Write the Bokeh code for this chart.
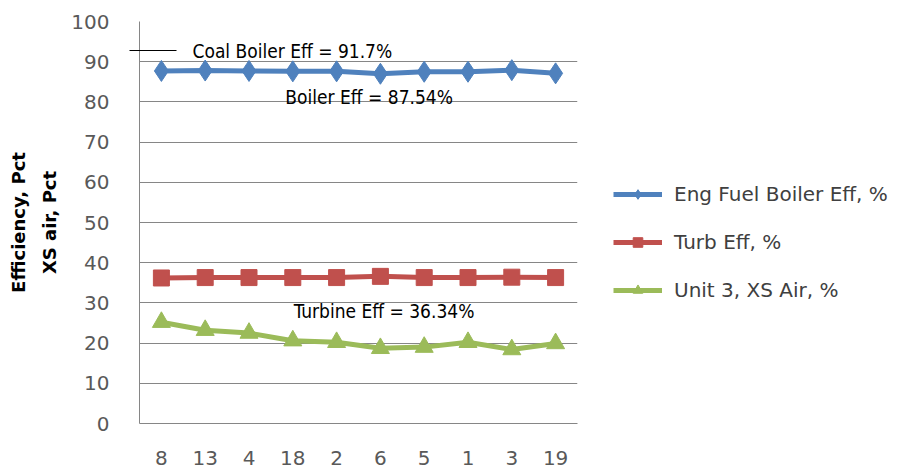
from bokeh.plotting import figure
from bokeh.models import (FactorRange, Range1d, Label, Legend, LegendItem,
                          LinearAxis, FixedTicker)
from bokeh.embed import file_html
from bokeh.resources import INLINE

units = ["8", "13", "4", "18", "2", "6", "5", "1", "3", "19"]
boiler_eff = [87.7, 87.8, 87.7, 87.6, 87.6, 87.0, 87.5, 87.5, 87.9, 87.1]
turb_eff = [36.2, 36.3, 36.3, 36.3, 36.3, 36.6, 36.3, 36.3, 36.4, 36.3]
xs_air = [25.2, 23.2, 22.5, 20.6, 20.2, 18.7, 19.0, 20.2, 18.4, 19.9]
series_names = ["Eng Fuel Boiler Eff, %", "Turb Eff, %", "Unit 3, XS Air, %"]
y_ticks = [0, 10, 20, 30, 40, 50, 60, 70, 80, 90, 100]
coal_boiler_eff = 91.7

TICK_FONT = "DejaVu Sans"
p = figure(x_range=FactorRange(*units), y_range=Range1d(0, 100),
           frame_width=438, frame_height=402,
           min_border_left=139, min_border_top=21, min_border_bottom=47,
           min_border_right=10,
           output_backend="svg", toolbar_location=None)
p.outline_line_color = None
p.background_fill_color = "white"
p.border_fill_color = "white"

# axes; the coal-boiler reference mark is drawn as a single minor tick
p.yaxis.ticker = FixedTicker(ticks=y_ticks, minor_ticks=[92.7])
p.ygrid.ticker = FixedTicker(ticks=y_ticks)
for ax in (p.xaxis[0], p.yaxis[0]):
    ax.axis_line_color = "#868686"
    ax.major_tick_line_color = None
    ax.minor_tick_line_color = None
    ax.major_label_text_font = TICK_FONT
    ax.major_label_text_font_size = "20px"
    ax.major_label_text_color = "#595959"
p.yaxis.minor_tick_line_color = "black"
p.yaxis.minor_tick_line_width = 1
p.yaxis.minor_tick_out = 10
p.yaxis.minor_tick_in = 37
p.xaxis.major_label_standoff = 21
p.yaxis.major_label_standoff = 20
p.yaxis.axis_label = "XS air, Pct"
p.yaxis.axis_label_text_font = TICK_FONT
p.yaxis.axis_label_text_font_style = "bold"
p.yaxis.axis_label_text_font_size = "18px"
p.yaxis.axis_label_text_color = "black"
p.yaxis.axis_label_standoff = 8

extra = LinearAxis(axis_label="Efficiency, Pct", ticker=FixedTicker(ticks=[]),
                   axis_line_color=None, major_tick_line_color=None,
                   minor_tick_line_color=None, major_label_text_font_size="0px",
                   axis_label_text_font=TICK_FONT, axis_label_text_font_style="bold",
                   axis_label_text_font_size="18px", axis_label_text_color="black",
                   axis_label_standoff=8)
p.add_layout(extra, "left")

p.xgrid.grid_line_color = None
p.ygrid.grid_line_color = "#868686"
p.ygrid.grid_line_width = 1

colors = ["#4F81BD", "#C0504D", "#9BBB59"]
r1l = p.line(units, boiler_eff, line_color=colors[0], line_width=5)
r1m = p.scatter(units, boiler_eff, marker="diamond", size=21, fill_color=colors[0],
                line_color=colors[0])
r2l = p.line(units, turb_eff, line_color=colors[1], line_width=5)
r2m = p.scatter(units, turb_eff, marker="square", size=16, fill_color=colors[1],
                line_color=colors[1])
r3l = p.line(units, xs_air, line_color=colors[2], line_width=5)
r3m = p.scatter(units, xs_air, marker="triangle", size=18, fill_color=colors[2],
                line_color=colors[2])

legend = Legend(items=[
    LegendItem(label=series_names[0], renderers=[r1l, r1m]),
    LegendItem(label=series_names[1], renderers=[r2l, r2m]),
    LegendItem(label=series_names[2], renderers=[r3l, r3m]),
], location=(36, 121), orientation="vertical")
legend.border_line_color = None
legend.background_fill_alpha = 0
legend.label_text_font = TICK_FONT
legend.label_text_font_size = "20px"
legend.label_text_color = "#404040"
legend.glyph_width = 49
legend.glyph_height = 24
legend.label_height = 24
legend.spacing = 24
legend.label_standoff = 12
legend.padding = 0
legend.margin = 0
p.add_layout(legend, "right")

ANN_FONT = "DejaVu Sans Condensed, Liberation Sans Narrow, sans-serif"
p.add_layout(Label(x=1.21, y=92.7, text="Coal Boiler Eff = " + str(coal_boiler_eff) + "%",
                   text_font=ANN_FONT, text_font_size="19px", text_baseline="middle",
                   text_color="black"))
p.add_layout(Label(x=3.33, y=81.1, text="Boiler Eff = 87.54%",
                   text_font=ANN_FONT, text_font_size="19px", text_baseline="middle",
                   text_color="black"))
p.add_layout(Label(x=3.52, y=28.1, text="Turbine Eff = 36.34%",
                   text_font=ANN_FONT, text_font_size="19px", text_baseline="middle",
                   text_color="black"))

open("out.html", "w").write(file_html(p, INLINE))
